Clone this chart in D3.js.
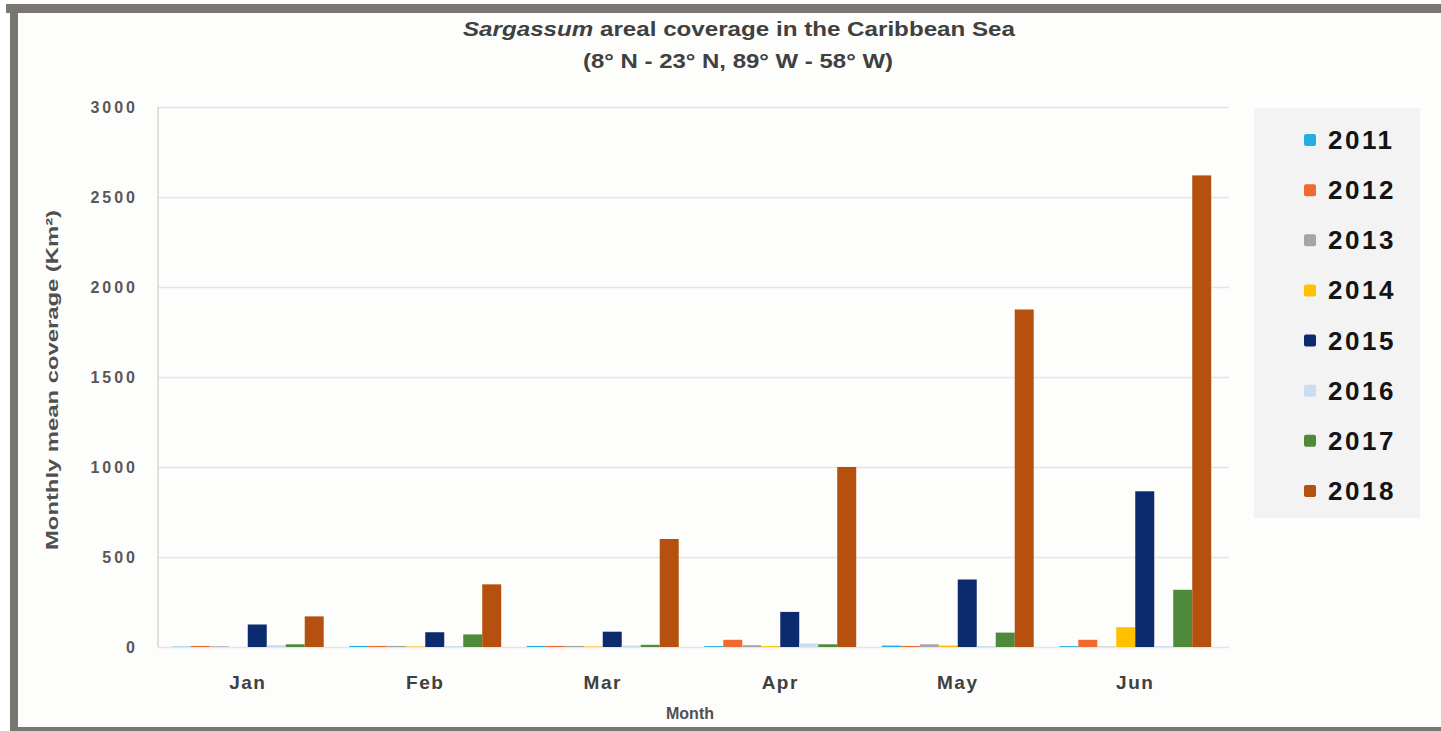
<!DOCTYPE html>
<html>
<head>
<meta charset="utf-8">
<script src="https://cdn.jsdelivr.net/npm/d3@7"></script>
<style>
  body { margin: 0; background: #fff; }
  svg { display: block; font-family: "Liberation Sans", Arial, sans-serif; }
</style>
</head>
<body>
<div id="chart"></div>
<script>
// data (km2, monthly mean)
var months = ["Jan", "Feb", "Mar", "Apr", "May", "Jun"]
var years = ["2011", "2012", "2013", "2014", "2015", "2016", "2017", "2018"]
var v2011 = [2, 6, 6, 5, 8, 5]
var v2012 = [6, 6, 6, 40, 6, 40]
var v2013 = [4, 6, 6, 10, 15, 2]
var v2014 = [0, 3, 3, 5, 8, 110]
var v2015 = [125, 82, 85, 195, 375, 865]
var v2016 = [10, 5, 8, 20, 5, 5]
var v2017 = [15, 70, 12, 15, 80, 318]
var v2018 = [170, 348, 600, 1000, 1875, 2620]
var yTicks = [0, 500, 1000, 1500, 2000, 2500, 3000]
var colors = ["#22aee0", "#ee6a30", "#a5a5a5", "#ffc000", "#0c2a6e", "#c9dcf0", "#4f8a3b", "#b5500f"]

var series = [v2011, v2012, v2013, v2014, v2015, v2016, v2017, v2018]

// flatten to rows [month, year, value]
var data = []
for (let s = 0; s < years.length; s++) {
  for (let m = 0; m < months.length; m++) {
    data.push([months[m], years[s], series[s][m], s])
  }
}

const W = 1441, H = 731
const plot = { left: 159, right: 1224, top: 107, bottom: 647 }

const svg = d3.select("#chart").append("svg")
  .attr("width", W)
  .attr("height", H)

// frame of the scanned figure
svg.append("rect").attr("x", 18).attr("y", 13).attr("width", W - 18).attr("height", 714).attr("fill", "#fdfdfc")
svg.append("rect").attr("x", 6).attr("y", 4).attr("width", W - 6).attr("height", 9).attr("fill", "#7a7672")
svg.append("rect").attr("x", 10).attr("y", 4).attr("width", 8).attr("height", H - 4).attr("fill", "#7a7672")
svg.append("rect").attr("x", 10).attr("y", 727).attr("width", W - 10).attr("height", 4).attr("fill", "#7a7672")

// legend background
svg.append("rect")
  .attr("x", 1254).attr("y", 108)
  .attr("width", 166).attr("height", 410)
  .attr("fill", "#f3f3f3")

const x0 = d3.scaleBand()
  .domain(months)
  .range([plot.left, plot.right])
  .paddingInner(0.144)
  .paddingOuter(0.072)

const x1 = d3.scaleBand()
  .domain(years)
  .range([0, x0.bandwidth()])

const y = d3.scaleLinear()
  .domain([0, 3000])
  .range([plot.bottom, plot.top])

// gridlines
svg.append("g")
  .attr("transform", `translate(${plot.left - 1},0)`)
  .call(d3.axisLeft(y).tickValues(yTicks).tickSize(-(plot.right - plot.left + 6)).tickFormat(""))
  .call(g => g.select(".domain").remove())
  .selectAll("line")
  .attr("stroke", "#e5e5e5")
  .attr("stroke-width", 1.5)

// left axis line
svg.append("line")
  .attr("x1", plot.left - 1).attr("x2", plot.left - 1)
  .attr("y1", plot.top).attr("y2", plot.bottom)
  .attr("stroke", "#d6d6d6")
  .attr("stroke-width", 1.5)

// y tick labels
svg.append("g")
  .attr("transform", `translate(${plot.left - 1},0)`)
  .call(d3.axisLeft(y).tickValues(yTicks).tickSize(0).tickPadding(20).tickFormat(d3.format("d")))
  .call(g => g.select(".domain").remove())
  .selectAll("text")
  .attr("fill", "#585858")
  .style("font-size", "16px")
  .style("font-weight", "bold")
  .style("letter-spacing", "3px")
  .style("font-family", "'Liberation Sans', Arial, sans-serif")

// bars
svg.append("g").selectAll("rect")
  .data(data)
  .enter()
  .append("rect")
  .attr("x", d => x0(d[0]) + x1(d[1]))
  .attr("y", d => y(d[2]))
  .attr("width", x1.bandwidth())
  .attr("height", d => y(0) - y(d[2]))
  .attr("fill", d => colors[d[3]])

// month labels
svg.append("g")
  .attr("transform", `translate(0,${plot.bottom})`)
  .call(d3.axisBottom(x0).tickSize(0).tickPadding(29))
  .call(g => g.select(".domain").remove())
  .selectAll("text")
  .attr("fill", "#404040")
  .style("font-size", "19px")
  .style("font-weight", "bold")
  .style("letter-spacing", "1.5px")
  .style("font-family", "'Liberation Sans', Arial, sans-serif")

// axis titles
svg.append("text")
  .attr("x", 690).attr("y", 719)
  .attr("text-anchor", "middle")
  .attr("fill", "#505050")
  .style("font-size", "16px")
  .style("font-weight", "bold")
  .text("Month")

svg.append("text")
  .attr("transform", "translate(58,380) rotate(-90)")
  .attr("text-anchor", "middle")
  .attr("fill", "#505050")
  .attr("textLength", 340)
  .attr("lengthAdjust", "spacingAndGlyphs")
  .style("font-size", "17px")
  .style("font-weight", "bold")
  .text("Monthly mean coverage (Km²)")

// title
const t1 = svg.append("text")
  .attr("x", 739).attr("y", 36)
  .attr("text-anchor", "middle")
  .attr("fill", "#404040")
  .attr("textLength", 552)
  .attr("lengthAdjust", "spacingAndGlyphs")
  .style("font-size", "21px")
  .style("font-weight", "bold")
t1.append("tspan").style("font-style", "italic").text("Sargassum")
t1.append("tspan").text(" areal coverage in the Caribbean Sea")

svg.append("text")
  .attr("x", 738).attr("y", 68)
  .attr("text-anchor", "middle")
  .attr("fill", "#404040")
  .attr("textLength", 310)
  .attr("lengthAdjust", "spacingAndGlyphs")
  .style("font-size", "21px")
  .style("font-weight", "bold")
  .text("(8° N - 23° N, 89° W - 58° W)")

// legend
const ly = d3.scalePoint().domain(years).range([140, 491])
const items = svg.append("g").selectAll("g")
  .data(years)
  .enter()
  .append("g")
  .attr("transform", d => `translate(0,${ly(d)})`)
items.append("rect")
  .attr("x", 1304).attr("y", -6)
  .attr("width", 12).attr("height", 12)
  .attr("rx", 2)
  .attr("fill", (d, i) => colors[i])
items.append("text")
  .attr("x", 1328).attr("y", 9)
  .attr("fill", "#141414")
  .style("font-size", "26px")
  .style("font-weight", "bold")
  .style("letter-spacing", "2.5px")
  .text(d => d)
</script>
</body>
</html>
